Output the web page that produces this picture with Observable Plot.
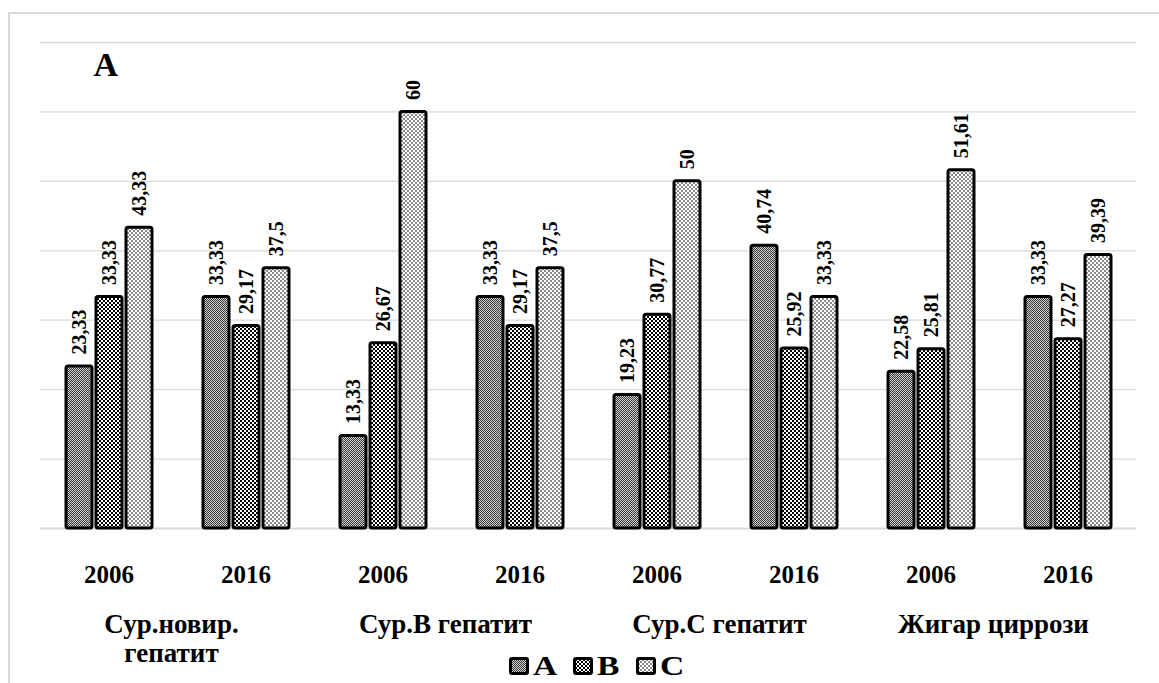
<!DOCTYPE html>
<html>
<head>
<meta charset="utf-8">
<script src="https://cdn.jsdelivr.net/npm/d3@7"></script>
<script src="https://cdn.jsdelivr.net/npm/@observablehq/plot@0.6"></script>
<style>
  html, body { margin: 0; padding: 0; background: #fff; overflow: hidden; }
  #wrap { position: relative; width: 1159px; height: 683px; }
  #border { position: absolute; left: 8px; top: 12px; width: 1200px; height: 720px; border: 2px solid #d9d9d9; box-sizing: border-box; }
  #chart { position: absolute; left: 0; top: 0; }
  #legend { position: absolute; left: 509px; top: 652px; display: flex; align-items: center;
            font-family: "Liberation Serif", "Times New Roman", serif; font-weight: bold; font-size: 28px; line-height: 28px; }
  #legend .item { display: flex; align-items: center; margin-right: 20px; }
  #legend .item span { display: inline-block; transform: scaleX(1.2); transform-origin: left center; }
  #legend svg { margin-right: 4px; }
</style>
</head>
<body>
<div id="wrap">
  <div id="border"></div>
  <div id="chart"></div>
  <div id="legend"></div>
</div>
<script>
// ---- data ----
const groups = ["Сур.новир.\nгепатит", "Сур.В гепатит", "Сур.С гепатит", "Жигар циррози"];
const years = ["2006", "2016"];
const series = ["A", "B", "C"];
const valuesA = [23.33, 33.33, 13.33, 33.33, 19.23, 40.74, 22.58, 33.33];
const valuesB = [33.33, 29.17, 26.67, 29.17, 30.77, 25.92, 25.81, 27.27];
const valuesC = [43.33, 37.5, 60, 37.5, 50, 33.33, 51.61, 39.39];
const gridTicks = [10, 20, 30, 40, 50, 60, 70];
const panelLabel = "A";

const serif = "'Liberation Serif', 'Times New Roman', serif";

// ---- build tables ----
const cats = [];
groups.forEach((g, gi) => years.forEach((y) => cats.push({ key: gi + "|" + y, group: g, year: y })));
const seriesValues = { A: valuesA, B: valuesB, C: valuesC };
const rows = [];
cats.forEach((c, ci) => series.forEach((s) => {
  const v = seriesValues[s][ci];
  rows.push({ key: c.key, series: s, value: v, label: String(v).replace(".", ",") });
}));
const keys = cats.map((c) => c.key);

const patternIds = { A: "patA", B: "patB", C: "patC" };

const svg = Plot.plot({
  width: 1159,
  height: 683,
  marginTop: 42,
  marginLeft: 37,
  marginRight: 20,
  marginBottom: 155,
  style: { background: "transparent", fontFamily: serif },
  fx: { domain: keys, padding: 0, axis: null, label: null },
  x: { domain: series, paddingInner: 0.15, paddingOuter: 0.857, axis: null },
  y: { domain: [0, 70], axis: null },
  color: { domain: series, range: series.map((s) => `url(#${patternIds[s]})`), legend: false },
  marks: [
    Plot.ruleY(gridTicks, { stroke: "#d9d9d9", strokeWidth: 1.3 }),
    Plot.ruleY([0], { stroke: "#d9d9d9", strokeWidth: 2 }),
    Plot.barY(rows, { fx: "key", x: "series", y: "value", fill: "series", stroke: "black", strokeWidth: 3, rx: 2 }),
    Plot.text(rows, { fx: "key", x: "series", y: "value", text: "label", rotate: -90, textAnchor: "start",
      dy: -12, fontSize: 20, fontWeight: "bold", fill: "black", ariaLabel: "values" }),
    Plot.text(cats, { fx: "key", text: "year", frameAnchor: "bottom", lineAnchor: "top", dy: 37,
      fontSize: 25, fontWeight: "bold", fill: "black", ariaLabel: "years" }),
    Plot.text(cats.filter((c) => c.year === years[0]), { fx: "key", text: "group", frameAnchor: "bottom-right",
      textAnchor: "middle", lineAnchor: "top", dx: -6, dy: 84, lineHeight: 1.08, fontSize: 27, fontWeight: "bold", fill: "black", ariaLabel: "groups" }),
    Plot.text([{ key: keys[0], t: panelLabel }], { fx: "key", text: "t", frameAnchor: "top-left", textAnchor: "start",
      lineAnchor: "top", dx: 53, dy: 9, fontSize: 34, fontWeight: "bold", fill: "black", ariaLabel: "panel" })
  ]
});

// patterns
const defs = d3.select(svg).insert("defs", ":first-child");
function checker(id, size, c1, c2) {
  const p = defs.append("pattern").attr("id", id).attr("patternUnits", "userSpaceOnUse")
    .attr("width", size * 2).attr("height", size * 2);
  p.append("rect").attr("width", size * 2).attr("height", size * 2).attr("fill", c2);
  p.append("rect").attr("x", 0).attr("y", 0).attr("width", size).attr("height", size).attr("fill", c1);
  p.append("rect").attr("x", size).attr("y", size).attr("width", size).attr("height", size).attr("fill", c1);
}
checker("patA", 1, "#3a3a3a", "#cfcfcf");
checker("patB", 2, "#000000", "#ffffff");
checker("patC", 2, "#8a8a8a", "#ffffff");

d3.select(svg).selectAll("text").style("font-family", serif);
d3.select(svg).selectAll('g[aria-label="values"] text').style("letter-spacing", "2.5px");

document.getElementById("chart").appendChild(svg);

// horizontal widening of glyphs (the reference image is stretched horizontally)
function widen(selector, s) {
  d3.select(svg).selectAll(selector).each(function () {
    if (this.tagName === "text" && this.querySelector("tspan")) return;
    const L = this.getComputedTextLength();
    this.setAttribute("textLength", (L * s).toFixed(1));
    this.setAttribute("lengthAdjust", "spacingAndGlyphs");
  });
}
widen('g[aria-label="years"] text', 1.3);
widen('g[aria-label="groups"] text', 1.3);
widen('g[aria-label="groups"] tspan', 1.3);

// legend
const legend = d3.select("#legend");
series.forEach((s) => {
  const item = legend.append("div").attr("class", "item");
  const sw = item.append("svg").attr("width", 20).attr("height", 18);
  sw.append("rect").attr("x", 1.5).attr("y", 1.5).attr("width", 17).attr("height", 15)
    .attr("fill", `url(#${patternIds[s]})`).attr("stroke", "black").attr("stroke-width", 3).attr("rx", 1.5);
  item.append("span").text(s);
});
</script>
</body>
</html>
